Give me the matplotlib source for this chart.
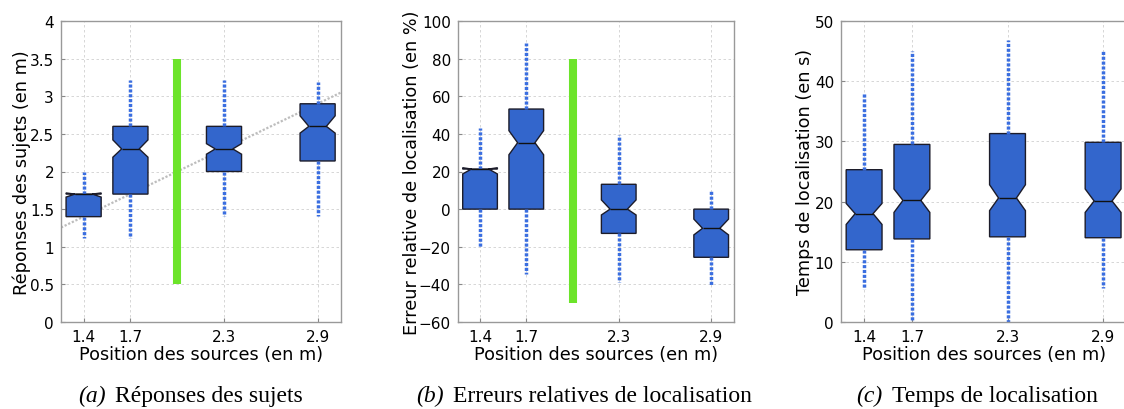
import matplotlib
matplotlib.use("Agg")
import matplotlib.pyplot as plt

# source positions (m)
positions = [1.4, 1.7, 2.3, 2.9]
tick_labels = ["1.4", "1.7", "2.3", "2.9"]

# (a) responses of subjects (m)
rep_whislo = [1.12, 1.12, 1.41, 1.41]
rep_q1 = [1.40, 1.70, 2.00, 2.14]
rep_med = [1.70, 2.30, 2.30, 2.60]
rep_q3 = [1.70, 2.60, 2.60, 2.90]
rep_whishi = [1.99, 3.21, 3.21, 3.19]
rep_cilo = [1.66, 2.19, 2.23, 2.51]
rep_cihi = [1.715, 2.42, 2.37, 2.74]

# (b) relative localisation error (%)
err_whislo = [-20.3, -34.5, -38.6, -40.3]
err_q1 = [0.0, 0.0, -12.9, -25.6]
err_med = [21.3, 35.3, 0.0, -10.2]
err_q3 = [21.3, 53.2, 13.2, 0.0]
err_whishi = [43.0, 88.3, 39.4, 10.3]
err_cilo = [18.7, 28.9, -3.1, -13.7]
err_cihi = [22.0, 41.7, 4.9, -5.3]

# (c) localisation time (s)
tps_whislo = [5.4, 0.0, 0.0, 5.6]
tps_q1 = [12.0, 13.8, 14.15, 14.0]
tps_med = [18.0, 20.2, 20.6, 20.1]
tps_q3 = [25.3, 29.5, 31.3, 29.85]
tps_whishi = [38.1, 45.0, 46.8, 45.2]
tps_cilo = [16.2, 18.2, 18.5, 18.2]
tps_cihi = [19.7, 22.1, 22.8, 22.1]

# green marker at the 2.0 m position
green_x = 2.0
rep_green = [0.5, 3.5]
err_green = [-50, 80]

rep_ticks = [0, 0.5, 1, 1.5, 2, 2.5, 3, 3.5, 4]
rep_tick_labels = ["0", "0.5", "1", "1.5", "2", "2.5", "3", "3.5", "4"]
err_ticks = [-60, -40, -20, 0, 20, 40, 60, 80, 100]
tps_ticks = [0, 10, 20, 30, 40, 50]

BLUE = "#3366cc"
WHISK = "#3a6ee0"
GREEN = "#6ce42a"

plt.rcParams["font.family"] = "DejaVu Sans"

fig = plt.figure(figsize=(11.24, 4.10), dpi=100)
W, H = 1124.0, 410.0


def make_stats(lo, q1, med, q3, hi, cilo, cihi):
    stats = []
    for i in range(len(med)):
        stats.append(dict(whislo=lo[i], q1=q1[i], med=med[i], q3=q3[i],
                          whishi=hi[i], cilo=cilo[i], cihi=cihi[i], fliers=[]))
    return stats


def setup(ax, ylim, yticks, ylabels=None):
    ax.set_xlim(1.255, 3.05)
    ax.set_ylim(*ylim)
    ax.set_xticks(positions)
    ax.set_xticklabels(tick_labels)
    ax.set_yticks(yticks)
    if ylabels is not None:
        ax.set_yticklabels(ylabels)
    ax.grid(True, color="#d0d0d0", linestyle=(0, (3, 3)), linewidth=0.6)
    ax.set_axisbelow(True)
    ax.tick_params(direction="in", length=3, color="#888888", labelsize=11, pad=5)
    for s in ax.spines.values():
        s.set_color("#999999")
        s.set_linewidth(1.0)


def boxes(ax, stats):
    ax.bxp(stats, positions=positions, widths=0.225, shownotches=True,
           showcaps=False, showfliers=False, patch_artist=True, manage_ticks=False,
           boxprops=dict(facecolor=BLUE, edgecolor="#1c1c2a", linewidth=1.0),
           medianprops=dict(color="#111111", linewidth=1.0),
           whiskerprops=dict(color=WHISK, linewidth=2.5, linestyle=(0, (0.9, 0.5))))


def ax_rect(left, right, top=22, bottom=323):
    return [left / W, 1 - bottom / H, (right - left) / W, (bottom - top) / H]


# (a)
ax1 = fig.add_axes(ax_rect(61, 341))
setup(ax1, (0, 4), rep_ticks, rep_tick_labels)
ax1.plot([1.255, 3.05], [1.255, 3.05], color="#bdbdbd", linewidth=1.6,
         linestyle=(0, (1, 0.8)), zorder=1.5)
ax1.vlines(green_x, rep_green[0], rep_green[1], color=GREEN, linewidth=5.8, zorder=2)
boxes(ax1, make_stats(rep_whislo, rep_q1, rep_med, rep_q3, rep_whishi, rep_cilo, rep_cihi))

# (b)
ax2 = fig.add_axes(ax_rect(457.7, 734.3))
setup(ax2, (-60, 100), err_ticks)
ax2.vlines(green_x, err_green[0], err_green[1], color=GREEN, linewidth=5.8, zorder=2)
boxes(ax2, make_stats(err_whislo, err_q1, err_med, err_q3, err_whishi, err_cilo, err_cihi))

# (c)
ax3 = fig.add_axes(ax_rect(841, 1127))
setup(ax3, (0, 50), tps_ticks)
boxes(ax3, make_stats(tps_whislo, tps_q1, tps_med, tps_q3, tps_whishi, tps_cilo, tps_cihi))

# axis labels
lab = 12.7
for xc in [201, 596, 984]:
    fig.text(xc / W, 1 - 360 / H, "Position des sources (en m)", ha="center",
             va="baseline", fontsize=lab)
fig.text(21.7 / W, 1 - 172.5 / H, "Réponses des sujets (en m)", rotation=90,
         ha="center", va="center", fontsize=lab)
fig.text(411.7 / W, 1 - 172.5 / H, "Erreur relative de localisation (en %)", rotation=90,
         ha="center", va="center", fontsize=lab)
fig.text(805 / W, 1 - 172.5 / H, "Temps de localisation (en s)", rotation=90,
         ha="center", va="center", fontsize=lab)

# captions
cap = 17
captions = [("(a)", "Réponses des sujets", 115),
            ("(b)", "Erreurs relatives de localisation", 452.7),
            ("(c)", "Temps de localisation", 891.7)]
for tag, txt, x0 in captions:
    fig.text((x0 - 9) / W, 1 - 402 / H, tag, ha="right", va="baseline",
             fontsize=cap, family="Liberation Serif", style="italic")
    fig.text(x0 / W, 1 - 402 / H, txt, ha="left", va="baseline",
             fontsize=cap, family="Liberation Serif")

fig.savefig("out.png", dpi=100)
